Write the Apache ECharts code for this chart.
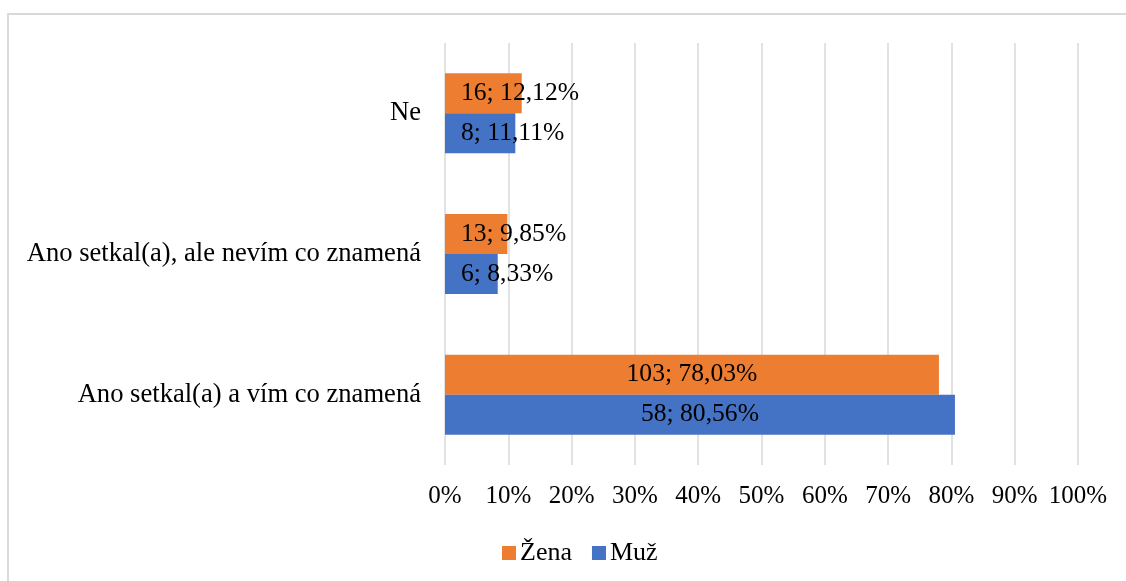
<!DOCTYPE html>
<html>
<head>
<meta charset="utf-8">
<script src="https://cdn.jsdelivr.net/npm/echarts@6/dist/echarts.min.js"></script>
<style>
  html, body { margin: 0; padding: 0; background: #fff; }
  #main { width: 1126px; height: 581px; }
</style>
</head>
<body>
<div id="main"></div>
<script>
// kategorie odpovědí (zdola nahoru)
var categories = ['Ano setkal(a) a vím co znamená', 'Ano setkal(a), ale nevím co znamená', 'Ne'];
// Žena
var zenaCount = [103, 13, 16];
var zenaPct = [78.03, 9.85, 12.12];
// Muž
var muzCount = [58, 6, 8];
var muzPct = [80.56, 8.33, 11.11];
var xTicks = [0, 10, 20, 30, 40, 50, 60, 70, 80, 90, 100];

var font = 'Liberation Serif, Times New Roman, serif';

function buildData(pcts, counts) {
  return pcts.map(function (v, i) {
    return {
      value: v,
      count: counts[i],
      label: v < 30 ? { position: 'insideLeft', distance: 16 } : { position: 'inside' }
    };
  });
}

function labelText(p) {
  return p.data.count + '; ' + p.data.value.toFixed(2).replace('.', ',') + '%';
}

var myChart = echarts.init(document.getElementById('main'));
myChart.setOption({
  animation: false,
  textStyle: { fontFamily: font },
  graphic: [{
    type: 'rect',
    shape: { x: 8, y: 14, width: 1300, height: 700 },
    style: { fill: 'none', stroke: '#d9d9d9', lineWidth: 2 },
    silent: true
  }],
  grid: { left: 445, right: 48, top: 43, bottom: 116 },
  legend: {
    data: ['Žena', 'Muž'],
    left: 497,
    top: 535,
    itemWidth: 14,
    itemHeight: 14,
    itemGap: 20,
    icon: 'rect',
    textStyle: { fontFamily: font, fontSize: 26, color: '#000', padding: [0, 0, 0, -1] }
  },
  xAxis: {
    type: 'value',
    min: xTicks[0],
    max: xTicks[xTicks.length - 1],
    interval: xTicks[1] - xTicks[0],
    axisLine: { show: false },
    axisTick: { show: false },
    axisLabel: { formatter: '{value}%', margin: 19, fontFamily: font, fontSize: 25, color: '#000' },
    splitLine: { lineStyle: { color: '#d9d9d9', width: 1.5 } }
  },
  yAxis: {
    type: 'category',
    data: categories,
    axisLine: { show: false },
    axisTick: { show: false },
    axisLabel: { margin: 24, fontFamily: font, fontSize: 26.6, color: '#000' }
  },
  series: [
    {
      name: 'Žena',
      type: 'bar',
      barWidth: 40,
      barGap: '0%',
      itemStyle: { color: '#ed7d31' },
      label: { show: true, formatter: labelText, fontFamily: font, fontSize: 25.6, color: '#000' },
      data: buildData(zenaPct, zenaCount)
    },
    {
      name: 'Muž',
      type: 'bar',
      barWidth: 40,
      barGap: '0%',
      itemStyle: { color: '#4472c4' },
      label: { show: true, formatter: labelText, fontFamily: font, fontSize: 25.6, color: '#000' },
      data: buildData(muzPct, muzCount)
    }
  ]
});
</script>
</body>
</html>
